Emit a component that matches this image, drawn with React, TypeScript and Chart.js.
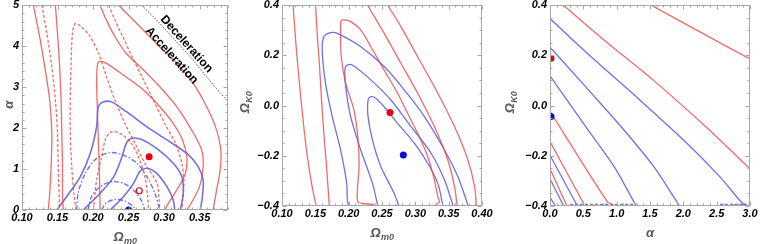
import React, { useEffect, useRef } from "react";
import { Chart, registerables } from "chart.js";

Chart.register(...registerables);

type P = [number, number];

// ---------------- Panel 1 : alpha vs Omega_m0 ----------------
const P1_X_TICKS = [0.1, 0.15, 0.2, 0.25, 0.3, 0.35];
const P1_X_LABELS = ["0.10", "0.15", "0.20", "0.25", "0.30", "0.35"];
const P1_Y_TICKS = [0, 1, 2, 3, 4, 5];
const P1_Y_LABELS = ["0", "1", "2", "3", "4", "5"];

const P1_RED_SOLID_OUTER_L: P[] = [[0.116, 5], [0.124, 4.31], [0.132, 3.5], [0.139, 2.68], [0.142, 1.87], [0.141, 1.06], [0.139, 0.41], [0.137, 0]];
const P1_RED_SOLID_OUTER_R: P[] = [[0.236, 5], [0.252, 4.72], [0.271, 4.39], [0.294, 3.98], [0.318, 3.58], [0.341, 3.09], [0.36, 2.52], [0.374, 1.95], [0.38, 1.46], [0.379, 0.98], [0.374, 0.49], [0.369, 0]];
const P1_RED_SOLID_MID_L: P[] = [[0.147, 5], [0.15, 4.31], [0.153, 3.5], [0.155, 2.68], [0.156, 1.87], [0.157, 1.06], [0.157, 0.41], [0.158, 0]];
const P1_RED_SOLID_MID_R: P[] = [[0.21, 5], [0.219, 4.63], [0.231, 4.23], [0.247, 3.82], [0.271, 3.42], [0.294, 3.01], [0.318, 2.52], [0.339, 1.95], [0.353, 1.46], [0.355, 1.06], [0.35, 0.57], [0.338, 0.16], [0.332, 0]];
const P1_RED_SOLID_IN: P[] = [[0.21, 0], [0.209, 0.89], [0.2075, 1.71], [0.206, 2.52], [0.205, 3.17], [0.2066, 3.58], [0.21, 3.63], [0.219, 3.58], [0.243, 3.29], [0.271, 2.93], [0.294, 2.52], [0.313, 2.11], [0.326, 1.71], [0.332, 1.3], [0.33, 0.89], [0.318, 0.49], [0.306, 0.16], [0.301, 0]];

const P1_RED_DASH_OUTER_L: P[] = [[0.128, 5], [0.135, 4.31], [0.142, 3.5], [0.147, 2.68], [0.15, 1.87], [0.151, 1.06], [0.153, 0]];
const P1_RED_DASH_OUTER_R: P[] = [[0.222, 5], [0.231, 4.63], [0.242, 4.23], [0.255, 3.74], [0.269, 3.25], [0.285, 2.68], [0.301, 2.11], [0.316, 1.63], [0.325, 1.14], [0.328, 0.65], [0.326, 0.24], [0.325, 0]];
const P1_RED_DASH_MID: P[] = [[0.176, 0], [0.173, 0.41], [0.17, 1.06], [0.168, 1.87], [0.168, 2.68], [0.169, 3.5], [0.171, 4.31], [0.175, 4.55], [0.184, 4.47], [0.196, 4.23], [0.208, 3.82], [0.219, 3.25], [0.231, 2.68], [0.245, 2.11], [0.259, 1.63], [0.273, 1.14], [0.29, 0.65], [0.293, 0.24], [0.294, 0]];
const P1_RED_DASH_IN: P[] = [[0.2005, 0], [0.205, 0.73], [0.212, 1.3], [0.218, 1.75], [0.226, 1.91], [0.238, 1.87], [0.252, 1.67], [0.264, 1.3], [0.273, 0.81], [0.277, 0.33], [0.278, 0]];

const P1_BLUE_SOLID_OUTER: P[] = [[0.149, 0], [0.163, 0.33], [0.182, 0.81], [0.196, 1.38], [0.205, 2.03], [0.2075, 2.52], [0.215, 2.64], [0.226, 2.64], [0.247, 2.4], [0.276, 2.03], [0.304, 1.71], [0.332, 1.38], [0.348, 1.06], [0.355, 0.73], [0.354, 0.33], [0.351, 0]];
const P1_BLUE_SOLID_MID: P[] = [[0.186, 0], [0.21, 0.41], [0.229, 0.81], [0.24, 1.26], [0.247, 1.63], [0.2545, 1.75], [0.2685, 1.72], [0.29, 1.5], [0.313, 1.14], [0.325, 0.81], [0.327, 0.41], [0.323, 0]];
const P1_BLUE_SOLID_IN: P[] = [[0.224, 0], [0.243, 0.33], [0.257, 0.65], [0.266, 0.94], [0.276, 1.02], [0.29, 0.89], [0.304, 0.57], [0.313, 0.24], [0.315, 0]];

const P1_BLUE_DD_OUTER: P[] = [[0.177, 0], [0.179, 0.41], [0.189, 0.89], [0.205, 1.26], [0.224, 1.4], [0.243, 1.34], [0.262, 1.14], [0.276, 0.81], [0.287, 0.41], [0.294, 0]];
const P1_BLUE_DD_MID: P[] = [[0.193, 0], [0.198, 0.33], [0.21, 0.57], [0.226, 0.69], [0.243, 0.65], [0.259, 0.45], [0.269, 0.2], [0.273, 0]];
const P1_BLUE_DD_IN: P[] = [[0.212, 0], [0.219, 0.18], [0.233, 0.26], [0.247, 0.2], [0.257, 0.08], [0.259, 0]];

const P1_DECEL_LINE: P[] = [[0.2685, 5], [0.29, 4.63], [0.313, 4.19], [0.337, 3.74], [0.36, 3.25], [0.39, 2.64]];
const P1_RED_BEST: P[] = [[0.279, 1.3]];
const P1_RED_OPEN: P[] = [[0.265, 0.47]];
const P1_BLUE_BEST: P[] = [[0.25, 0]];
const P1_NOTE_TEXT = ["Deceleration", "Acceleration"];
const P1_NOTE_AT: P[] = [[0.3315, 4.05], [0.3107, 3.77]];

// ---------------- Panel 2 : Omega_K0 vs Omega_m0 ----------------
const P2_X_TICKS = [0.1, 0.15, 0.2, 0.25, 0.3, 0.35, 0.4];
const P2_X_LABELS = ["0.10", "0.15", "0.20", "0.25", "0.30", "0.35", "0.40"];
const P2_Y_TICKS = [-0.4, -0.2, 0, 0.2, 0.4];
const P2_Y_LABELS = ["\u22120.4", "\u22120.2", "0.0", "0.2", "0.4"];

const P2_RED_1: P[] = [[0.1166, 0.4], [0.1216, 0.221], [0.1286, 0.022], [0.1367, -0.177], [0.1452, -0.323], [0.1513, -0.4]];
const P2_RED_2: P[] = [[0.1503, 0.4], [0.1528, 0.287], [0.1563, 0.155], [0.1593, 0.022], [0.1628, -0.111], [0.1668, -0.243], [0.1693, -0.336], [0.1709, -0.4]];
const P2_RED_3: P[] = [[0.2382, -0.394], [0.2256, -0.391], [0.2141, -0.384], [0.2131, -0.336], [0.2156, -0.243], [0.2141, -0.137], [0.208, -0.018], [0.1955, 0.088], [0.1889, 0.194], [0.1879, 0.287], [0.1889, 0.338], [0.1955, 0.34], [0.203, 0.334], [0.2181, 0.301], [0.2332, 0.234], [0.2533, 0.141], [0.2734, 0.049], [0.2884, -0.031], [0.3035, -0.111], [0.3186, -0.203], [0.3286, -0.296], [0.3337, -0.363], [0.3362, -0.384], [0.3312, -0.394]];
const P2_RED_4: P[] = [[0.2281, 0.4], [0.2533, 0.287], [0.2784, 0.168], [0.3035, 0.049], [0.3286, -0.084], [0.3487, -0.217], [0.3588, -0.323], [0.3628, -0.4]];
const P2_RED_5: P[] = [[0.2583, 0.4], [0.2784, 0.314], [0.3035, 0.194], [0.3337, 0.049], [0.3588, -0.084], [0.3789, -0.217], [0.3889, -0.323], [0.3915, -0.4]];
const P2_BLUE_1: P[] = [[0.2, -0.4], [0.198, -0.376], [0.197, -0.31], [0.1879, -0.177], [0.1754, -0.044], [0.1653, 0.088], [0.1603, 0.221], [0.1628, 0.274], [0.1729, 0.29], [0.1829, 0.287], [0.2181, 0.234], [0.2533, 0.155], [0.2834, 0.062], [0.3136, -0.044], [0.3437, -0.177], [0.3638, -0.283], [0.3789, -0.396]];
const P2_BLUE_2: P[] = [[0.2437, -0.4], [0.2357, -0.31], [0.2181, -0.177], [0.203, -0.044], [0.1955, 0.075], [0.1945, 0.148], [0.198, 0.161], [0.2055, 0.161], [0.2332, 0.102], [0.2633, 0.022], [0.2935, -0.084], [0.3236, -0.19], [0.3437, -0.296], [0.3563, -0.396]];
const P2_BLUE_3: P[] = [[0.2754, -0.4], [0.2683, -0.35], [0.2482, -0.243], [0.2357, -0.137], [0.2291, -0.044], [0.2291, 0.022], [0.2332, 0.035], [0.2407, 0.029], [0.2533, -0.005], [0.2734, -0.071], [0.2985, -0.15], [0.3186, -0.23], [0.3337, -0.31], [0.3412, -0.396]];
const P2_RED_BEST: P[] = [[0.262, -0.028]];
const P2_BLUE_BEST: P[] = [[0.282, -0.197]];

// ---------------- Panel 3 : Omega_K0 vs alpha ----------------
const P3_X_TICKS = [0, 0.5, 1, 1.5, 2, 2.5, 3];
const P3_X_LABELS = ["0.0", "0.5", "1.0", "1.5", "2.0", "2.5", "3.0"];
const P3_Y_TICKS = P2_Y_TICKS;
const P3_Y_LABELS = P2_Y_LABELS;

const P3_RED_1: P[] = [[1.512, 0.4], [2.256, 0.292], [3.0, 0.185]];
const P3_RED_2: P[] = [[0.198, 0.4], [0.818, 0.259], [1.562, 0.098], [2.305, -0.077], [3.0, -0.252]];
const P3_BLUE_1: P[] = [[0, 0.346], [0.57, 0.205], [1.314, 0.03], [2.058, -0.151], [2.553, -0.285], [2.876, -0.386], [2.95, -0.396]];
const P3_BLUE_2: P[] = [[0, 0.232], [0.57, 0.064], [1.066, -0.084], [1.562, -0.245], [1.909, -0.386], [1.934, -0.396]];
const P3_BLUE_3: P[] = [[0, 0.118], [0.57, -0.097], [0.967, -0.245], [1.264, -0.386], [1.29, -0.396]];
const P3_RED_3: P[] = [[0, -0.023], [0.868, -0.386], [0.95, -0.394]];
const P3_RED_4: P[] = [[0, -0.144], [0.511, -0.393]];
const P3_BLUE_4: P[] = [[0, -0.198], [0.397, -0.393]];
const P3_RED_5: P[] = [[0, -0.252], [0.248, -0.396]];
const P3_BLUE_5: P[] = [[0, -0.292], [0.198, -0.396]];
const P3_BLUE_6: P[] = [[0, -0.366], [0.074, -0.396]];
const P3_BLUE_EDGE_A: P[] = [[0.3, -0.394], [1.25, -0.394]];
const P3_BLUE_EDGE_B: P[] = [[2.55, -0.394], [2.9, -0.394]];
const P3_RED_EDGE: P[] = [[2.75, -0.396], [3.0, -0.396]];
const P3_RED_BEST: P[] = [[0.015, 0.188]];
const P3_BLUE_BEST: P[] = [[0.015, -0.044]];

// ---------------- styles ----------------
const FONT = "'Liberation Sans', Arial, Helvetica, sans-serif";
const RED = "rgba(236,64,64,0.78)";
const BLUE = "rgba(72,72,228,0.78)";
const RED_DOT = "#e8000b";
const BLUE_DOT = "#0a0ae0";
const FRAME = "#a8a8a8";
const TITLE = "#5a5a5a";
const DASH = [3, 2];
const DASHDOT = [5, 2, 1.5, 2];

interface LineSpec { data: P[]; color: string; dash?: number[]; width?: number }
interface DotSpec { data: P[]; color: string; open?: boolean }
interface Label { main: string; sub: string }
interface Note { text: string; at: P }
interface PanelCfg {
  left: number; width: number; yAxisW: number; xAxisH: number; padR: number;
  xRange: [number, number]; yRange: [number, number];
  xTicks: number[]; xLabels: string[]; yTicks: number[]; yLabels: string[];
  xMinor: number; yMinor: number;
  lines: LineSpec[]; dots: DotSpec[];
  xTitle: Label; yTitle: Label; yTitleX: number;
  notes?: Note[];
}

function drawLabel(ctx: CanvasRenderingContext2D, lab: Label, cx: number, cy: number, rot: number) {
  ctx.save();
  ctx.translate(cx, cy);
  ctx.rotate(rot);
  const mf = `italic bold 13px ${FONT}`;
  const sf = `italic bold 9px ${FONT}`;
  ctx.font = mf;
  const w1 = ctx.measureText(lab.main).width;
  ctx.font = sf;
  const w2 = lab.sub ? ctx.measureText(lab.sub).width : 0;
  const x0 = -(w1 + w2) / 2;
  ctx.fillStyle = TITLE;
  ctx.textAlign = "left";
  ctx.textBaseline = "alphabetic";
  ctx.font = mf;
  ctx.fillText(lab.main, x0, 4.5);
  if (lab.sub) {
    ctx.font = sf;
    ctx.fillText(lab.sub, x0 + w1 + 0.5, 7.5);
  }
  ctx.restore();
}

function Panel({ cfg }: { cfg: PanelCfg }) {
  const ref = useRef<HTMLCanvasElement | null>(null);
  useEffect(() => {
    const canvas = ref.current;
    if (!canvas) return;
    const tickFont = { family: FONT, size: 11, style: "italic" as const, weight: "bold" as const };
    const datasets: any[] = [];
    cfg.lines.forEach((l) =>
      datasets.push({
        data: l.data.map(([x, y]) => ({ x, y })),
        showLine: true,
        borderColor: l.color,
        borderWidth: l.width ?? 1.3,
        borderDash: l.dash ?? [],
        pointRadius: 0,
        pointHoverRadius: 0,
        tension: 0.3,
        fill: false,
        order: 2,
      })
    );
    cfg.dots.forEach((d) =>
      datasets.push({
        data: d.data.map(([x, y]) => ({ x, y })),
        showLine: false,
        pointRadius: d.open ? 3 : 3.5,
        pointBackgroundColor: d.open ? "#ffffff" : d.color,
        pointBorderColor: d.color,
        pointBorderWidth: d.open ? 1.2 : 0,
        order: 0,
      })
    );
    const xMinorVals: number[] = [];
    const nx = Math.round((cfg.xRange[1] - cfg.xRange[0]) / cfg.xMinor);
    for (let i = 0; i <= nx; i++) xMinorVals.push(cfg.xRange[0] + i * cfg.xMinor);
    const yMinorVals: number[] = [];
    const ny = Math.round((cfg.yRange[1] - cfg.yRange[0]) / cfg.yMinor);
    for (let i = 0; i <= ny; i++) yMinorVals.push(cfg.yRange[0] + i * cfg.yMinor);

    const deco = {
      id: "deco",
      afterDraw(chart: any) {
        const ctx: CanvasRenderingContext2D = chart.ctx;
        const a = chart.chartArea;
        const xs = chart.scales.x;
        const ys = chart.scales.y;
        const L = Math.round(a.left) + 0.5;
        const R = Math.round(a.right) - 0.5;
        const T = Math.round(a.top) + 0.5;
        const B = Math.round(a.bottom) - 0.5;
        ctx.save();
        ctx.strokeStyle = FRAME;
        ctx.lineWidth = 1;
        ctx.setLineDash([]);
        ctx.strokeRect(L, T, R - L, B - T);
        ctx.beginPath();
        xMinorVals.forEach((v) => {
          const major = cfg.xTicks.some((t) => Math.abs(t - v) < 1e-6);
          const len = major ? 4 : 2;
          const px = Math.round(xs.getPixelForValue(v)) + 0.5;
          ctx.moveTo(px, B); ctx.lineTo(px, B - len);
          ctx.moveTo(px, T); ctx.lineTo(px, T + len);
        });
        yMinorVals.forEach((v) => {
          const major = cfg.yTicks.some((t) => Math.abs(t - v) < 1e-6);
          const len = major ? 4 : 2;
          const py = Math.round(ys.getPixelForValue(v)) + 0.5;
          ctx.moveTo(L, py); ctx.lineTo(L + len, py);
          ctx.moveTo(R, py); ctx.lineTo(R - len, py);
        });
        ctx.stroke();
        ctx.restore();

        drawLabel(ctx, cfg.xTitle, (a.left + a.right) / 2, a.bottom + 26, 0);
        drawLabel(ctx, cfg.yTitle, cfg.yTitleX, (a.top + a.bottom) / 2 - 3, -Math.PI / 2);

        if (cfg.notes) {
          cfg.notes.forEach((n) => {
            ctx.save();
            ctx.translate(xs.getPixelForValue(n.at[0]), ys.getPixelForValue(n.at[1]));
            ctx.rotate((48 * Math.PI) / 180);
            ctx.font = `bold 12px ${FONT}`;
            ctx.fillStyle = "#000";
            ctx.textAlign = "center";
            ctx.textBaseline = "middle";
            ctx.fillText(n.text, 0, 0);
            ctx.restore();
          });
        }
      },
    };

    const chart = new Chart(canvas, {
      type: "scatter",
      data: { datasets },
      options: {
        animation: false,
        responsive: false,
        devicePixelRatio: 1,
        events: [],
        layout: { padding: { left: 0, top: 5, right: cfg.padR, bottom: 0 } },
        plugins: { legend: { display: false }, tooltip: { enabled: false } },
        scales: {
          x: {
            type: "linear",
            bounds: "data",
            min: cfg.xRange[0],
            max: cfg.xRange[1],
            afterBuildTicks: (s: any) => { s.ticks = cfg.xTicks.map((v) => ({ value: v })); },
            afterFit: (s: any) => { s.height = cfg.xAxisH; },
            grid: { display: false, drawTicks: false },
            border: { display: false },
            ticks: {
              autoSkip: false, maxRotation: 0, minRotation: 0, padding: 1, color: "#000",
              font: tickFont,
              callback: (_v: any, i: number) => cfg.xLabels[i],
            },
          },
          y: {
            type: "linear",
            bounds: "data",
            min: cfg.yRange[0],
            max: cfg.yRange[1],
            afterBuildTicks: (s: any) => { s.ticks = cfg.yTicks.map((v) => ({ value: v })); },
            afterFit: (s: any) => { s.width = cfg.yAxisW; },
            grid: { display: false, drawTicks: false },
            border: { display: false },
            ticks: {
              autoSkip: false, padding: 3, color: "#000",
              font: { ...tickFont, lineHeight: 0.3 },
              callback: (_v: any, i: number) => cfg.yLabels[i],
            },
          },
        },
      } as any,
      plugins: [deco],
    });
    return () => chart.destroy();
  }, [cfg]);
  return (
    <canvas
      ref={ref}
      width={cfg.width}
      height={244}
      style={{ position: "absolute", left: cfg.left, top: 0, width: cfg.width, height: 244 }}
    />
  );
}

const PANEL1: PanelCfg = {
  left: 0, width: 236, yAxisW: 22, xAxisH: 34, padR: 8,
  xRange: [0.1, 0.39], yRange: [0, 5],
  xTicks: P1_X_TICKS, xLabels: P1_X_LABELS, yTicks: P1_Y_TICKS, yLabels: P1_Y_LABELS,
  xMinor: 0.01, yMinor: 0.2,
  lines: [
    { data: P1_DECEL_LINE, color: "#555", dash: [1.5, 1.5], width: 1 },
    { data: P1_RED_SOLID_OUTER_L, color: RED },
    { data: P1_RED_SOLID_OUTER_R, color: RED },
    { data: P1_RED_SOLID_MID_L, color: RED },
    { data: P1_RED_SOLID_MID_R, color: RED },
    { data: P1_RED_SOLID_IN, color: RED },
    { data: P1_RED_DASH_OUTER_L, color: RED, dash: DASH },
    { data: P1_RED_DASH_OUTER_R, color: RED, dash: DASH },
    { data: P1_RED_DASH_MID, color: RED, dash: DASH },
    { data: P1_RED_DASH_IN, color: RED, dash: DASH },
    { data: P1_BLUE_SOLID_OUTER, color: BLUE, width: 1.6 },
    { data: P1_BLUE_SOLID_MID, color: BLUE, width: 1.6 },
    { data: P1_BLUE_SOLID_IN, color: BLUE, width: 1.6 },
    { data: P1_BLUE_DD_OUTER, color: BLUE, dash: DASHDOT, width: 1.4 },
    { data: P1_BLUE_DD_MID, color: BLUE, dash: DASHDOT, width: 1.4 },
    { data: P1_BLUE_DD_IN, color: BLUE, dash: DASHDOT, width: 1.4 },
  ],
  dots: [
    { data: P1_RED_BEST, color: RED_DOT },
    { data: P1_RED_OPEN, color: RED_DOT, open: true },
    { data: P1_BLUE_BEST, color: BLUE_DOT },
  ],
  xTitle: { main: "\u03A9", sub: "m0" },
  yTitle: { main: "\u03B1", sub: "" },
  yTitleX: 8.5,
  notes: P1_NOTE_TEXT.map((t, i) => ({ text: t, at: P1_NOTE_AT[i] })),
};

const PANEL2: PanelCfg = {
  left: 236, width: 264, yAxisW: 46, xAxisH: 38, padR: 18,
  xRange: [0.1, 0.4], yRange: [-0.4, 0.4],
  xTicks: P2_X_TICKS, xLabels: P2_X_LABELS, yTicks: P2_Y_TICKS, yLabels: P2_Y_LABELS,
  xMinor: 0.01, yMinor: 0.05,
  lines: [
    { data: P2_RED_1, color: RED },
    { data: P2_RED_2, color: RED },
    { data: P2_RED_3, color: RED },
    { data: P2_RED_4, color: RED },
    { data: P2_RED_5, color: RED },
    { data: P2_BLUE_1, color: BLUE },
    { data: P2_BLUE_2, color: BLUE },
    { data: P2_BLUE_3, color: BLUE },
  ],
  dots: [
    { data: P2_RED_BEST, color: RED_DOT },
    { data: P2_BLUE_BEST, color: BLUE_DOT },
  ],
  xTitle: { main: "\u03A9", sub: "m0" },
  yTitle: { main: "\u03A9", sub: "K0" },
  yTitleX: 8,
};

const PANEL3: PanelCfg = {
  left: 500, width: 260, yAxisW: 50, xAxisH: 38, padR: 10,
  xRange: [0, 3], yRange: [-0.4, 0.4],
  xTicks: P3_X_TICKS, xLabels: P3_X_LABELS, yTicks: P3_Y_TICKS, yLabels: P3_Y_LABELS,
  xMinor: 0.1, yMinor: 0.05,
  lines: [
    { data: P3_RED_1, color: RED },
    { data: P3_RED_2, color: RED },
    { data: P3_RED_3, color: RED },
    { data: P3_RED_4, color: RED },
    { data: P3_RED_5, color: RED },
    { data: P3_BLUE_1, color: BLUE },
    { data: P3_BLUE_2, color: BLUE },
    { data: P3_BLUE_3, color: BLUE },
    { data: P3_BLUE_4, color: BLUE },
    { data: P3_BLUE_5, color: BLUE },
    { data: P3_BLUE_6, color: BLUE },
    { data: P3_BLUE_EDGE_A, color: BLUE, dash: DASH },
    { data: P3_BLUE_EDGE_B, color: BLUE, dash: DASH },
    { data: P3_RED_EDGE, color: RED, dash: DASH },
  ],
  dots: [
    { data: P3_RED_BEST, color: RED_DOT },
    { data: P3_BLUE_BEST, color: BLUE_DOT },
  ],
  xTitle: { main: "\u03B1", sub: "" },
  yTitle: { main: "\u03A9", sub: "K0" },
  yTitleX: 9,
};

export default function App() {
  return (
    <div style={{ position: "absolute", left: 0, top: 0, width: 760, height: 244, background: "#ffffff" }}>
      <Panel cfg={PANEL1} />
      <Panel cfg={PANEL2} />
      <Panel cfg={PANEL3} />
    </div>
  );
}
